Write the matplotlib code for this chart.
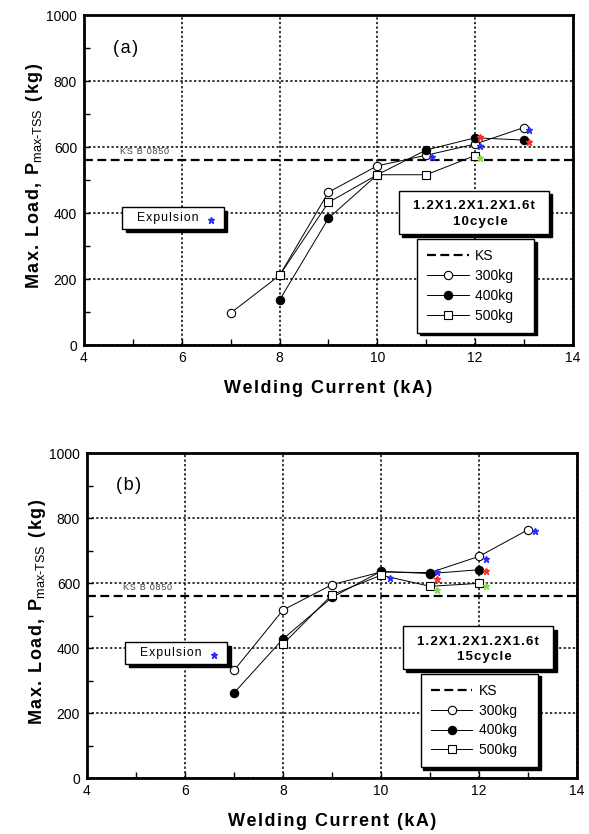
import matplotlib
matplotlib.use('Agg')
import matplotlib.pyplot as plt
import matplotlib.transforms as mtransforms
from matplotlib.patches import Rectangle

plt.rcParams['font.family'] = ['Liberation Sans', 'DejaVu Sans']
plt.rcParams['mathtext.fontset'] = 'custom'
plt.rcParams['mathtext.rm'] = 'Liberation Sans'
plt.rcParams['mathtext.default'] = 'rm'

# ---------------- data ----------------
# panel (a) 10 cycle
cur_a_300 = [7, 8, 9, 10, 11, 12, 13]
load_a_300 = [97, 211, 463, 543, 575, 609, 659]
cur_a_400 = [8, 9, 10, 11, 12, 13]
load_a_400 = [136, 384, 516, 591, 628, 621]
cur_a_500 = [8, 9, 10, 11, 12]
load_a_500 = [211, 432, 516, 516, 574]

# panel (b) 15 cycle
cur_b_300 = [7, 8, 9, 10, 11, 12, 13]
load_b_300 = [331, 517, 595, 634, 632, 682, 764]
cur_b_400 = [7, 8, 9, 10, 11, 12]
load_b_400 = [262, 428, 556, 636, 629, 641]
cur_b_500 = [8, 9, 10, 11, 12]
load_b_500 = [412, 564, 624, 590, 599]

ks_value = 560

# expulsion marks (current, load, colour)
exp_a_x = [11.11, 12.1, 12.1, 12.1, 13.1, 13.1]
exp_a_y = [571, 631, 604, 568, 651, 616]
exp_a_c = ['#2a2aff', '#ff2a2a', '#2a2aff', '#7be040', '#2a2aff', '#ff2a2a']

exp_b_x = [10.18, 11.14, 11.14, 11.14, 12.15, 12.15, 12.15, 13.15]
exp_b_y = [617, 633, 613, 579, 675, 636, 590, 759]
exp_b_c = ['#2a2aff', '#2a2aff', '#ff2a2a', '#7be040', '#2a2aff', '#ff2a2a', '#7be040', '#2a2aff']

x_ticks = [4, 6, 8, 10, 12, 14]
y_ticks = [0, 200, 400, 600, 800, 1000]
series_labels = ['300kg', '400kg', '500kg']

panels = [
    dict(label='(a)', cycle='10cycle',
         cur=[cur_a_300, cur_a_400, cur_a_500], load=[load_a_300, load_a_400, load_a_500],
         ex=exp_a_x, ey=exp_a_y, ec=exp_a_c,
         rect=[0.1426, 0.5863, 0.830, 0.3957]),
    dict(label='(b)', cycle='15cycle',
         cur=[cur_b_300, cur_b_400, cur_b_500], load=[load_b_300, load_b_400, load_b_500],
         ex=exp_b_x, ey=exp_b_y, ec=exp_b_c,
         rect=[0.1477, 0.0671, 0.832, 0.3897]),
]

HAIR = '\u200a'

def spaced(s, sep=HAIR):
    return sep.join(list(s))

fig = plt.figure(figsize=(5.89, 8.34), dpi=100)

def shadow_box(ax, x0, y0, w, h):
    sh = mtransforms.offset_copy(ax.transData, fig=fig, x=2.5, y=-2.5, units='points')
    ax.add_patch(Rectangle((x0, y0), w, h, transform=sh, facecolor='black',
                           edgecolor='black', lw=1.0, zorder=6))
    ax.add_patch(Rectangle((x0, y0), w, h, facecolor='white',
                           edgecolor='black', lw=1.0, zorder=7))

styles = [dict(marker='o', mfc='white', mec='black'),
          dict(marker='o', mfc='black', mec='black'),
          dict(marker='s', mfc='white', mec='black')]

ylabel_text = spaced('Max. Load, P') + '$_{max\u2010TSS}$' + HAIR + spaced(' (kg)')

for p in panels:
    ax = fig.add_axes(p['rect'])
    ax.set_xlim(4, 14)
    ax.set_ylim(0, 1000)
    ax.set_xticks(x_ticks)
    ax.set_yticks(y_ticks)
    ax.set_xticks(range(5, 14, 2), minor=True)
    ax.set_yticks(range(100, 1000, 200), minor=True)
    ax.tick_params(which='both', direction='in', labelsize=10, colors='black')
    ax.tick_params(which='major', length=4, width=1.0)
    ax.tick_params(which='minor', length=4, width=1.0)
    ax.tick_params(axis='x', pad=4)
    ax.tick_params(axis='y', pad=5)
    for sp in ax.spines.values():
        sp.set_linewidth(2.0)
    ax.grid(True, which='major', linestyle=(0, (1.5, 1.5)), color='black', lw=1.1)
    ax.set_axisbelow(True)

    ks_line, = ax.plot([4, 14], [ks_value, ks_value], linestyle=(0, (4, 2)),
                       color='black', lw=1.6, zorder=2)

    handles = [ks_line]
    for cur, load, st, lab in zip(p['cur'], p['load'], styles, series_labels):
        h, = ax.plot(cur, load, color='black', lw=0.7, markersize=6, mew=0.8,
                     label=lab, zorder=4, **st)
        handles.append(h)

    for x, y, c in zip(p['ex'], p['ey'], p['ec']):
        ax.plot([x], [y], marker='*', color=c, markersize=4.5, linestyle='none', zorder=5)

    ax.text(4.6, 900, spaced(p['label']), fontsize=13, va='center', ha='left')
    ax.text(4.74, 585, spaced('KS B 0850'), fontsize=6.5, color='#444444',
            va='center', ha='left')

    # expulsion box
    shadow_box(ax, 4.78, 352, 2.08, 66)
    ax.text(5.08, 385, spaced('Expulsion'), fontsize=8.8, va='center', ha='left', zorder=8)
    ax.plot([6.6], [380], marker='*', color='#2a2aff', markersize=4.5, linestyle='none', zorder=8)

    # condition box
    shadow_box(ax, 10.44, 337, 3.07, 130)
    ax.text(11.97, 420, spaced('1.2X1.2X1.2X1.6t'), fontsize=9.5, fontweight='bold',
            va='center', ha='center', zorder=8)
    ax.text(12.1, 372, spaced(p['cycle']), fontsize=9.5, fontweight='bold',
            va='center', ha='center', zorder=8)

    leg = ax.legend(handles, ['KS'] + [s + '   ' for s in series_labels], loc='upper left',
                    bbox_to_anchor=(0.681, 0.321), borderaxespad=0, fontsize=10,
                    frameon=True, fancybox=False, edgecolor='black',
                    handlelength=3.0, handletextpad=0.45, labelspacing=0.42,
                    borderpad=0.72, shadow={'color': 'black', 'alpha': 1})
    leg.get_frame().set_linewidth(1.0)
    leg.set_zorder(9)

    ax.set_xlabel(spaced('Welding Current (kA)'), fontsize=13, fontweight='bold', labelpad=11)
    ax.set_ylabel(ylabel_text, fontsize=13, fontweight='bold', labelpad=1)
    ax.yaxis.label.set_y(0.512)

fig.savefig('out.png', dpi=100)
